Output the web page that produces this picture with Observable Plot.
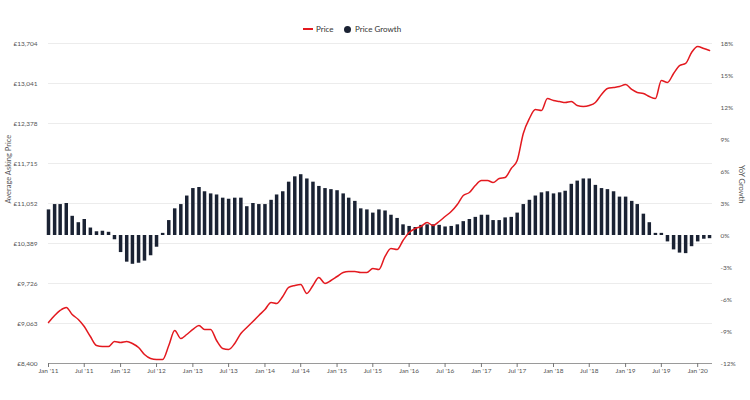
<!DOCTYPE html>
<html>
<head>
<meta charset="utf-8">
<script src="https://cdn.jsdelivr.net/npm/d3@7"></script>
<script src="https://cdn.jsdelivr.net/npm/@observablehq/plot@0.6"></script>
<style>
  body { margin: 0; background: #fff; font-family: Lato, "Open Sans", sans-serif; }
  #wrap { position: relative; width: 750px; height: 400px; }
  #legend { position: absolute; top: 23px; left: 0; width: 750px; height: 12px; font-size: 8px; color: #333; }
  #legend .sw-line { position: absolute; left: 303px; top: 5px; width: 10px; height: 2px; background: #e3191f; }
  #legend .sw-dot { position: absolute; left: 344px; top: 2.5px; width: 7px; height: 7px; border-radius: 50%; background: #1a2233; }
  #legend span.t { position: absolute; top: 0; line-height: 12px; }
</style>
</head>
<body>
<div id="wrap">
  <div id="legend">
    <div class="sw-line"></div><span class="t" style="left:316px">Price</span>
    <div class="sw-dot"></div><span class="t" style="left:355px">Price Growth</span>
  </div>
  <div id="chart"></div>
</div>
<script>
// Monthly average asking price (£), Jan 2011 – Mar 2020
const price = [
  9080, 9196, 9279, 9328, 9212, 9129, 9013, 8848, 8698, 8682, 8682, 8765,
  8748, 8765, 8732, 8665, 8549, 8483, 8466, 8466, 8698, 8947, 8814, 8881,
  8964, 9030, 8964, 8964, 8781, 8649, 8632, 8732, 8897, 8997, 9096, 9196,
  9295, 9411, 9395, 9511, 9660, 9693, 9709, 9560, 9693, 9825, 9726, 9776,
  9842, 9908, 9925, 9925, 9908, 9908, 9975, 9958, 10174, 10306, 10290, 10439,
  10571, 10638, 10671, 10737, 10687, 10754, 10837, 10919, 11035, 11185, 11234, 11350,
  11433, 11433, 11400, 11466, 11483, 11632, 11765, 12212, 12461, 12610, 12593, 12792,
  12759, 12743, 12726, 12743, 12676, 12660, 12676, 12726, 12859, 12958, 12975, 12991,
  13024, 12942, 12892, 12875, 12825, 12792, 13091, 13058, 13207, 13339, 13373, 13555,
  13654, 13621, 13588
];
// Year-on-year growth (%)
const growth = [
  2.4, 2.9, 2.9, 3.0, 1.8, 1.2, 1.5, 0.7, 0.35, 0.4, 0.3, -0.4,
  -1.6, -2.5, -2.7, -2.6, -2.4, -1.9, -1.1, 0.2, 1.4, 2.5, 2.9, 3.7,
  4.4, 4.5, 4.1, 3.9, 3.8, 3.5, 3.4, 3.5, 3.5, 2.7, 3.0, 2.9,
  2.9, 3.3, 3.8, 4.1, 5.0, 5.5, 5.7, 5.3, 5.0, 4.6, 4.4, 4.3,
  4.2, 3.9, 3.5, 3.2, 2.5, 2.4, 2.1, 2.4, 2.3, 1.9, 1.6, 1.0,
  0.85, 0.75, 0.95, 1.0, 1.0, 0.95, 0.8, 0.85, 1.0, 1.3, 1.5, 1.7,
  1.9, 1.9, 1.4, 1.4, 1.65, 1.7, 2.1, 2.9, 3.3, 3.7, 4.0, 4.1,
  3.9, 4.0, 4.15, 4.8, 5.1, 5.3, 5.3, 4.7, 4.4, 4.3, 4.1, 3.6,
  3.6, 3.2, 2.9, 2.0, 1.2, 0.2, 0.2, -0.6, -1.35, -1.65, -1.7, -1.05,
  -0.6, -0.35, -0.3
];
const priceTicks = [8400, 9063, 9726, 10389, 11052, 11715, 12378, 13041, 13704];
const growthTicks = [-12, -9, -6, -3, 0, 3, 6, 9, 12, 15, 18];
const xTickLabels = ["Jan '11","Jul '11","Jan '12","Jul '12","Jan '13","Jul '13","Jan '14","Jul '14","Jan '15","Jul '15",
  "Jan '16","Jul '16","Jan '17","Jul '17","Jan '18","Jul '18","Jan '19","Jul '19","Jan '20"];

const yMin = priceTicks[0], yMax = priceTicks[priceTicks.length - 1];
const gMin = growthTicks[0], gMax = growthTicks[growthTicks.length - 1];
const g2y = g => yMin + (g - gMin) / (gMax - gMin) * (yMax - yMin);
const y2g = v => Math.round((v - yMin) / (yMax - yMin) * (gMax - gMin) + gMin);

const data = price.map((p, i) => ({ date: new Date(Date.UTC(2011, i, 1)), price: p, growth: growth[i] }));
const xTicks = xTickLabels.map((_, i) => new Date(Date.UTC(2011, i * 6, 1)));

const chart = Plot.plot({
  width: 750,
  height: 400,
  marginTop: 43,
  marginBottom: 37,
  marginLeft: 48,
  marginRight: 38,
  style: { fontFamily: "Lato, 'Open Sans', sans-serif", fontSize: "6.5px", color: "#555", background: "transparent" },
  x: { type: "utc", domain: [new Date(Date.UTC(2011, 0, 1)), new Date(Date.UTC(2020, 2, 16))] },
  y: { domain: [yMin, yMax] },
  marks: [
    Plot.ruleY(priceTicks.slice(1), { stroke: "#ececec", strokeWidth: 1 }),
    Plot.ruleX(data, { x: "date", y1: g2y(0), y2: d => g2y(d.growth), stroke: "#1a2233", strokeWidth: 3.5 }),
    Plot.line(data, { x: "date", y: "price", stroke: "#e3191f", strokeWidth: 1.5, curve: "monotone-x" }),
    Plot.ruleY([yMin], { stroke: "#9a9a9a", strokeWidth: 1 }),
    Plot.axisY(priceTicks, { anchor: "left", tickSize: 0, tickPadding: 11, label: null,
      tickFormat: d => "£" + d3.format(",")(d) }),
    Plot.axisY(growthTicks.map(g2y), { anchor: "right", tickSize: 0, tickPadding: 8, label: null,
      tickFormat: v => y2g(v) + "%" }),
    Plot.axisX(xTicks, { anchor: "bottom", tickSize: 4, tickPadding: 1, label: null, stroke: "#777",
      tickFormat: (d) => xTickLabels[xTicks.findIndex(t => +t === +d)] }),
    Plot.text(["Average Asking Price"], { frameAnchor: "left", dx: -40, rotate: -90, fontSize: 7.5, fill: "#555" }),
    Plot.text(["YoY Growth"], { frameAnchor: "right", dx: 29, rotate: 90, fontSize: 7.5, fill: "#555" })
  ]
});
document.getElementById("chart").appendChild(chart);
</script>
</body>
</html>
